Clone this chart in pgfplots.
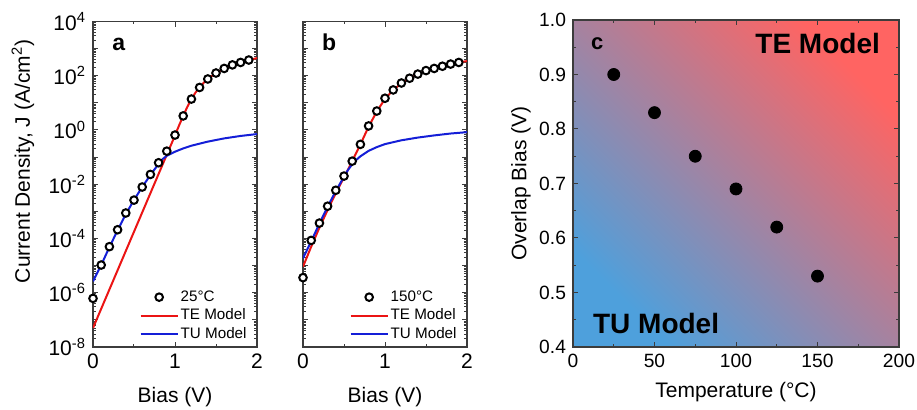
\documentclass[border=0pt]{standalone}
\usepackage{fontspec}
\setmainfont{Liberation Sans}
\usepackage{pgfplots}
\pgfplotsset{compat=1.18}

\definecolor{teRed}{RGB}{255,100,98}
\definecolor{tuBlue}{RGB}{78,160,220}
\definecolor{lineRed}{RGB}{235,20,20}
\definecolor{lineBlue}{RGB}{20,30,215}
\definecolor{axgray}{RGB}{60,60,60}

\pgfplotsset{
  panel/.style={
    scale only axis,
    axis line style={axgray, line width=0.6pt},
    tick style={axgray, line width=0.5pt},
    major tick length=2.6pt,
    minor tick length=1.4pt,
    tick align=inside,
    tick label style={font=\fontsize{10.5}{12}\selectfont},
    label style={font=\fontsize{10.5}{12}\selectfont},
  },
  jvlegend/.style={
    legend style={at={(0.951,0.009)}, anchor=south east, draw=none, fill=none,
      font=\fontsize{7.6}{8}\selectfont, row sep=0pt, inner sep=0pt,
      nodes={text height=5.6pt, text depth=1.5pt, inner ysep=1.1pt, inner xsep=1pt}},
    legend cell align=left,
    legend image code/.code={\draw[mark repeat=2, mark phase=2, ##1]
      plot coordinates {(0pt,0pt) (9.25pt,0pt) (18.5pt,0pt)};},
  },
  circ/.style={only marks, mark=*, mark size=1.9pt,
    mark options={fill=white, draw=black, line width=1pt}},
  teline/.style={lineRed, line width=1pt, no marks},
  tuline/.style={lineBlue, line width=1pt, no marks},
}

\begin{document}
\begin{tikzpicture}
\useasboundingbox (0,0) rectangle (458.5pt,205pt);

% ---------------- panel a: 25 C
\begin{axis}[panel, jvlegend, at={(46.5pt,31.5pt)}, anchor=south west,
  width=82pt, height=162.75pt,
  ymode=log,
  xmin=0, xmax=2, ymin=1e-8, ymax=1e4,
  xtick={0,1,2}, xticklabels={0,1,2}, minor xtick={0.5,1.5},
  ytick={1e-8,1e-7,1e-6,1e-5,1e-4,1e-3,1e-2,1e-1,1,1e1,1e2,1e3,1e4},
  minor ytick={2e-8,3e-8,4e-8,5e-8,6e-8,7e-8,8e-8,9e-8,
    2e-7,3e-7,4e-7,5e-7,6e-7,7e-7,8e-7,9e-7,
    2e-6,3e-6,4e-6,5e-6,6e-6,7e-6,8e-6,9e-6,
    2e-5,3e-5,4e-5,5e-5,6e-5,7e-5,8e-5,9e-5,
    2e-4,3e-4,4e-4,5e-4,6e-4,7e-4,8e-4,9e-4,
    2e-3,3e-3,4e-3,5e-3,6e-3,7e-3,8e-3,9e-3,
    0.02,0.03,0.04,0.05,0.06,0.07,0.08,0.09,
    0.2,0.3,0.4,0.5,0.6,0.7,0.8,0.9,
    2,3,4,5,6,7,8,9,20,30,40,50,60,70,80,90,
    200,300,400,500,600,700,800,900,2000,3000,4000,5000,6000,7000,8000,9000},
  yticklabels={10\textsuperscript{-8},,10\textsuperscript{-6},,10\textsuperscript{-4},,10\textsuperscript{-2},,10\textsuperscript{0},,10\textsuperscript{2},,10\textsuperscript{4}},
  xlabel={Bias (V)},
  xlabel style={at={(axis description cs:0.5,-0.154)}, anchor=center},
  ylabel={Current Density, J (A/cm\textsuperscript{2})},
  ylabel style={at={(axis description cs:-0.427,0.57)}, anchor=center},
]
\addlegendimage{circ}\addlegendentry{25°C}
\addlegendimage{teline}\addlegendentry{TE Model}
\addlegendimage{tuline}\addlegendentry{TU Model}
\addplot[teline, forget plot] coordinates {
 (0,5.0e-8) (1.0,0.63) (1.05,1.48) (1.1,3.3) (1.15,7.1) (1.2,13.8) (1.25,24)
 (1.3,37) (1.35,55) (1.4,76) (1.5,126) (1.6,186) (1.7,251) (1.8,316) (1.9,380) (2.0,447)};
\addplot[tuline, forget plot] coordinates {
 (0,2.63e-6) (0.1,1.05e-5) (0.2,4.79e-5) (0.3,2.0e-4) (0.4,7.9e-4) (0.5,2.63e-3)
 (0.6,7.9e-3) (0.7,2.19e-2) (0.8,5.6e-2) (0.85,8.5e-2) (0.9,0.112) (1.0,0.158)
 (1.1,0.209) (1.2,0.263) (1.4,0.372) (1.6,0.490) (1.8,0.603) (2.0,0.708)};
\addplot[circ, forget plot] coordinates {
 (0,6.2e-7) (0.1,1.05e-5) (0.2,5.0e-5) (0.3,2.1e-4) (0.4,8.7e-4) (0.5,2.6e-3)
 (0.6,7.9e-3) (0.7,2.3e-2) (0.8,6.2e-2) (0.9,0.166) (1.0,0.65) (1.1,3.3)
 (1.2,13.8) (1.3,37) (1.4,76) (1.5,126) (1.6,186) (1.7,251) (1.8,309) (1.9,380)};
\node[anchor=base west, font=\fontsize{11.5}{12}\selectfont\bfseries]
  at (axis description cs:0.075,0.911) {a};
\end{axis}

% ---------------- panel b: 150 C
\begin{axis}[panel, jvlegend, at={(151.5pt,31.5pt)}, anchor=south west,
  width=82pt, height=162.75pt,
  ymode=log,
  xmin=0, xmax=2, ymin=1e-8, ymax=1e4,
  xtick={0,1,2}, xticklabels={0,1,2}, minor xtick={0.5,1.5},
  ytick={1e-8,1e-7,1e-6,1e-5,1e-4,1e-3,1e-2,1e-1,1,1e1,1e2,1e3,1e4},
  minor ytick={2e-8,3e-8,4e-8,5e-8,6e-8,7e-8,8e-8,9e-8,
    2e-7,3e-7,4e-7,5e-7,6e-7,7e-7,8e-7,9e-7,
    2e-6,3e-6,4e-6,5e-6,6e-6,7e-6,8e-6,9e-6,
    2e-5,3e-5,4e-5,5e-5,6e-5,7e-5,8e-5,9e-5,
    2e-4,3e-4,4e-4,5e-4,6e-4,7e-4,8e-4,9e-4,
    2e-3,3e-3,4e-3,5e-3,6e-3,7e-3,8e-3,9e-3,
    0.02,0.03,0.04,0.05,0.06,0.07,0.08,0.09,
    0.2,0.3,0.4,0.5,0.6,0.7,0.8,0.9,
    2,3,4,5,6,7,8,9,20,30,40,50,60,70,80,90,
    200,300,400,500,600,700,800,900,2000,3000,4000,5000,6000,7000,8000,9000},
  yticklabels={},
  xlabel={Bias (V)},
  xlabel style={at={(axis description cs:0.5,-0.154)}, anchor=center},
]
\addlegendimage{circ}\addlegendentry{150°C}
\addlegendimage{teline}\addlegendentry{TE Model}
\addlegendimage{tuline}\addlegendentry{TU Model}
\addplot[teline, forget plot] coordinates {
 (0,9.1e-6) (0.1,5.0e-5) (0.2,2.5e-4) (0.3,1.12e-3) (0.4,4.7e-3) (0.5,1.78e-2)
 (0.6,7.1e-2) (0.7,0.295) (0.8,1.32) (0.9,4.8) (1.0,14.1) (1.1,29.5) (1.2,52.5)
 (1.3,81) (1.4,115) (1.5,151) (1.6,191) (1.7,229) (1.8,269) (1.9,309) (2.0,347)};
\addplot[tuline, forget plot] coordinates {
 (0,1.86e-5) (0.1,7.9e-5) (0.2,3.55e-4) (0.3,1.48e-3) (0.4,5.6e-3) (0.5,1.91e-2)
 (0.55,3.39e-2) (0.6,5.4e-2) (0.65,7.9e-2) (0.7,0.107) (0.8,0.170) (0.9,0.234)
 (1.0,0.302) (1.2,0.417) (1.4,0.525) (1.6,0.631) (1.8,0.741) (2.0,0.832)};
\addplot[circ, forget plot] coordinates {
 (0,3.6e-6) (0.1,8.5e-5) (0.2,3.7e-4) (0.3,1.55e-3) (0.4,6.0e-3) (0.5,2.0e-2)
 (0.6,7.1e-2) (0.7,0.295) (0.8,1.41) (0.9,5.0) (1.0,14.8) (1.1,30) (1.2,54)
 (1.3,81) (1.4,115) (1.5,155) (1.6,186) (1.7,224) (1.8,269) (1.9,309)};
\node[anchor=base west, font=\fontsize{11.5}{12}\selectfont\bfseries]
  at (axis description cs:0.073,0.911) {b};
\end{axis}

% ---------------- panel c: overlap bias
\begin{axis}[panel, at={(286.5pt,31.5pt)}, anchor=south west,
  width=163pt, height=163.5pt,
  xmin=0, xmax=200, ymin=0.4, ymax=1.0,
  xtick={0,50,100,150,200}, xticklabels={0,50,100,150,200},
  minor xtick={25,75,125,175},
  ytick={0.4,0.5,0.6,0.7,0.8,0.9,1.0},
  yticklabels={0.4,0.5,0.6,0.7,0.8,0.9,1.0},
  minor ytick={0.45,0.55,0.65,0.75,0.85,0.95},
  tick label style={font=\fontsize{9.6}{11}\selectfont},
  xlabel={Temperature (°C)},
  ylabel={Overlap Bias (V)},
  xlabel style={at={(axis description cs:0.5,-0.138)}, anchor=center},
  ylabel style={at={(axis description cs:-0.16,0.5)}, anchor=center},
  axis background/.style={left color=tuBlue, right color=teRed, shading angle=135},
]
\addplot[only marks, mark=*, mark size=3pt, black] coordinates {
 (25,0.90) (50,0.83) (75,0.75) (100,0.69) (125,0.62) (150,0.53)};
\node[anchor=base west, font=\fontsize{11}{12}\selectfont\bfseries]
  at (axis description cs:0.034,0.911) {c};
\node[anchor=base east, font=\fontsize{14}{16}\selectfont\bfseries]
  at (axis description cs:0.963,0.899) {TE Model};
\node[anchor=base west, font=\fontsize{14}{16}\selectfont\bfseries]
  at (axis description cs:0.04,0.04) {TU Model};
\end{axis}
\end{tikzpicture}
\end{document}
